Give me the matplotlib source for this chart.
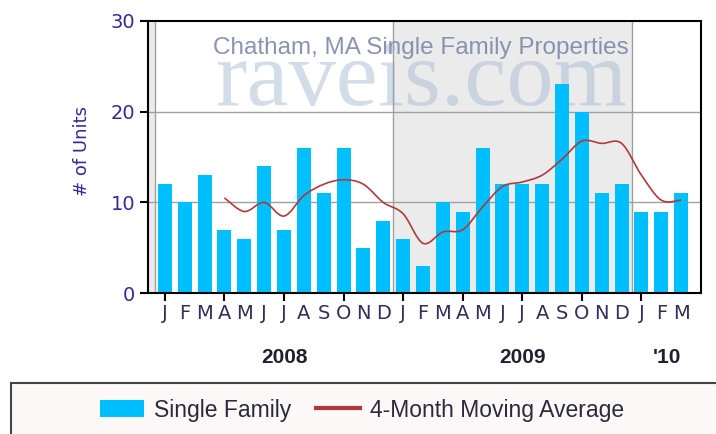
import matplotlib
matplotlib.use("Agg")
import matplotlib.pyplot as plt
from matplotlib.path import Path
from matplotlib.patches import PathPatch, Rectangle
from matplotlib.lines import Line2D

# monthly single family sales, Jan 2008 - Mar 2010
month_labels = ["J", "F", "M", "A", "M", "J", "J", "A", "S", "O", "N", "D",
                "J", "F", "M", "A", "M", "J", "J", "A", "S", "O", "N", "D",
                "J", "F", "M"]
units = [12, 10, 13, 7, 6, 14, 7, 16, 11, 16, 5, 8,
         6, 3, 10, 9, 16, 12, 12, 12, 23, 20, 11, 12,
         9, 9, 11]
# 4-month moving average, starts at April 2008
moving_avg = [10.5, 9.0, 10.0, 8.5, 10.75, 12.0, 12.5, 12.0, 10.0,
              8.75, 5.5, 6.75, 7.0, 9.5, 11.75, 12.25, 13.0, 14.75,
              16.75, 16.5, 16.5, 13.0, 10.25, 10.25]
ma_start = 3
year_labels = ["2008", "2009", "'10"]
year_pos = [6, 18, 25.3]
y_ticks = [0, 10, 20, 30]

tick_color = "#33299a"
month_color = "#30305a"
bar_color = "#00bfff"
line_color = "#b03a3a"
grid_color = "#a0a0a0"

fig = plt.figure(figsize=(7.16, 4.34), dpi=100)
ax = fig.add_axes([148 / 716, 1 - 293.3 / 434, 553 / 716, 272.6 / 434])

x = list(range(len(units)))

# year shading (2007 sliver and 2009)
ax.axvspan(-1, -0.5, color="#ebebeb", zorder=0, lw=0)
ax.axvspan(11.5, 23.5, color="#ebebeb", zorder=0, lw=0)
for xv in [-0.5, 11.5, 23.5]:
    ax.axvline(xv, color=grid_color, lw=1, zorder=1)
for yv in [10, 20]:
    ax.axhline(yv, color=grid_color, lw=1, zorder=1)

ax.text(
    0.4944, 0.6907, "raveis.com",
    transform=ax.transAxes, ha="center", va="baseline",
    family="Liberation Serif", fontsize=68,
    color="#a8bcd4", alpha=0.5, zorder=0.5
)

ax.bar(x, units, width=0.7, color=bar_color, zorder=2)

# smooth curve through the moving average points
pts = [(ma_start + i, v) for i, v in enumerate(moving_avg)]
verts = [pts[0]]
codes = [Path.MOVETO]
for i in range(len(pts) - 1):
    p0 = pts[i - 1] if i > 0 else pts[i]
    p1 = pts[i]
    p2 = pts[i + 1]
    p3 = pts[i + 2] if i + 2 < len(pts) else pts[i + 1]
    c1 = (p1[0] + (p2[0] - p0[0]) / 6, p1[1] + (p2[1] - p0[1]) / 6)
    c2 = (p2[0] - (p3[0] - p1[0]) / 6, p2[1] - (p3[1] - p1[1]) / 6)
    verts += [c1, c2, p2]
    codes += [Path.CURVE4] * 3
ax.add_patch(PathPatch(Path(verts, codes), fill=False,
                       edgecolor=line_color, lw=1.2, zorder=3))

ax.text(
    0.494, 0.8778, "Chatham, MA Single Family Properties",
    transform=ax.transAxes, ha="center", va="baseline",
    family="Liberation Sans", fontsize=17.5,
    color="#7d88aa", alpha=0.9, zorder=4
)

ax.set_xlim(-0.85, 27.0)
ax.set_ylim(0, 30)

# month letters on major ticks, quarter marks on minor ticks
ax.xaxis.remove_overlapping_locs = False
ax.set_xticks(x)
ax.set_xticklabels(month_labels, family="DejaVu Sans",
                   fontsize=14, color=month_color)
ax.set_xticks(range(0, 27, 3), minor=True)
ax.tick_params(axis="x", which="major", length=0, pad=8)
ax.tick_params(axis="x", which="minor", length=6, width=1.5, color="black")

ax.set_yticks(y_ticks)
ax.set_yticklabels([str(v) for v in y_ticks], family="DejaVu Sans",
                   fontsize=14, color=tick_color)
ax.tick_params(axis="y", length=6, width=1.5, color="black", pad=3)

for name, spine in ax.spines.items():
    spine.set_color("black")
    spine.set_linewidth(1.5)
    spine.set_zorder(5)

ax.set_ylabel("# of Units", family="DejaVu Sans", fontsize=13,
              color=tick_color)
ax.yaxis.set_label_coords((91 - 148) / 553, (293.3 - 151) / 272.6)

for lab, pos in zip(year_labels, year_pos):
    ax.text(pos, -0.2557, lab, transform=ax.get_xaxis_transform(),
            ha="center", va="baseline", family="Liberation Sans",
            fontweight="bold", fontsize=15, color="#202030")

# legend box at the bottom
fig.patches.append(Rectangle(
    (11 / 716, -0.2), 1.2, 0.2 + 1 - 383 / 434,
    transform=fig.transFigure, facecolor="#fcf8f8",
    edgecolor="#444444", lw=1.5, zorder=0
))

handles = [
    Rectangle((0, 0), 1, 1, facecolor=bar_color, edgecolor="none"),
    Line2D([0], [0], color=line_color, lw=3),
]
fig.legend(
    handles, ["Single Family", "4-Month Moving Average"],
    loc="center", bbox_to_anchor=(362 / 716, 1 - 410 / 434),
    ncol=2, frameon=False, borderpad=0,
    handlelength=1.92, handleheight=0.7, handletextpad=0.44,
    columnspacing=1.09,
    prop={"family": "Liberation Sans", "size": 16.5},
    labelcolor="#2a2a3a"
)

fig.savefig("out.png", dpi=100)
